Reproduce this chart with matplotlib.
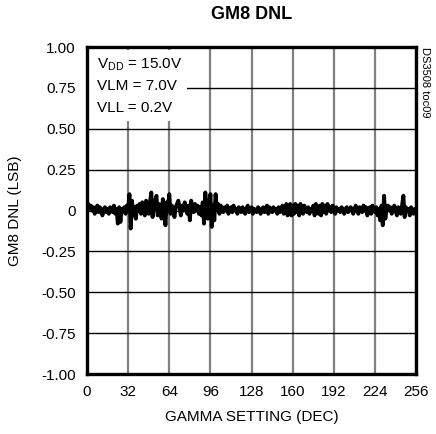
import numpy as np
import matplotlib
matplotlib.use("Agg")
import matplotlib.pyplot as plt
from matplotlib.patches import Rectangle

plt.rcParams['font.family'] = ['Liberation Sans', 'DejaVu Sans']
plt.rcParams['mathtext.fontset'] = 'custom'
plt.rcParams['mathtext.rm'] = 'Liberation Sans'

# gamma setting 0..256, DNL in LSB
dnl = [
    0.02, 0.04, 0.01, 0.03, 0.00, 0.02, -0.02, 0.01, 0.03, -0.01, 0.02, 0.00, -0.03, 0.01, 0.02, -0.01,
    0.01, -0.02, 0.02, 0.00, -0.01, 0.03, -0.02, 0.01, -0.08, 0.02, -0.07, 0.01, 0.00, 0.02, -0.02, 0.03,
    0.01, 0.10, -0.11, 0.06, -0.03, 0.02, -0.05, 0.03, 0.00, 0.04, -0.02, 0.05, 0.01, -0.03, 0.06, 0.02,
    -0.02, 0.05, 0.11, -0.04, 0.03, 0.06, 0.09, -0.03, 0.04, 0.02, -0.05, 0.07, 0.01, -0.09, 0.05, 0.03,
    0.10, -0.02, 0.03, 0.01, -0.04, 0.02, 0.04, 0.06, 0.02, -0.03, 0.03, 0.00, 0.05, 0.01, -0.02, 0.03,
    -0.06, 0.06, 0.02, -0.01, 0.04, 0.00, 0.03, -0.02, 0.02, -0.03, 0.05, -0.08, 0.11, 0.02, -0.05, 0.04,
    0.10, -0.10, 0.03, -0.06, 0.10, 0.01, 0.04, -0.02, 0.03, 0.01, -0.01, 0.02, 0.00, 0.03, -0.02, 0.01,
    0.02, -0.01, 0.03, 0.00, 0.01, -0.02, 0.02, 0.01, -0.01, 0.02, 0.00, -0.02, 0.01, 0.03, -0.01, 0.00,
    0.02, -0.02, 0.01, 0.00, -0.01, 0.02, 0.01, -0.02, 0.00, 0.02, -0.01, 0.01, 0.03, -0.02, 0.02, 0.00,
    -0.01, 0.02, 0.00, 0.01, -0.02, 0.02, -0.01, 0.01, 0.03, -0.02, 0.01, 0.04, -0.03, 0.02, 0.04, -0.03,
    0.03, -0.02, 0.04, -0.01, 0.03, -0.03, 0.04, 0.00, -0.02, 0.03, 0.01, -0.01, 0.02, -0.02, 0.01, 0.00,
    0.03, -0.03, 0.04, 0.00, -0.02, 0.03, -0.03, 0.04, -0.01, 0.03, -0.02, 0.04, 0.00, 0.02, -0.01, 0.03,
    0.01, -0.02, 0.02, 0.00, 0.01, -0.01, 0.02, 0.00, -0.02, 0.01, 0.02, -0.01, 0.00, 0.02, 0.01, -0.02,
    0.01, 0.03, 0.00, -0.02, 0.02, 0.01, -0.01, 0.03, 0.00, 0.02, -0.03, 0.01, 0.02, -0.02, 0.03, 0.00,
    -0.01, 0.02, -0.03, 0.01, -0.06, 0.03, -0.09, 0.09, -0.05, 0.02, 0.03, 0.00, 0.02, -0.02, 0.01, 0.03,
    0.00, -0.03, 0.02, 0.01, -0.02, 0.03, 0.09, -0.04, 0.02, 0.00, 0.01, -0.03, 0.02, 0.00, -0.02, 0.01, -0.01,
]
gamma = np.arange(len(dnl))

x_ticks = [0, 32, 64, 96, 128, 160, 192, 224, 256]
y_ticks = [-1.0, -0.75, -0.5, -0.25, 0, 0.25, 0.5, 0.75, 1.0]
y_labels = ['-1.00', '-0.75', '-0.50', '-0.25', '0', '0.25', '0.50', '0.75', '1.00']
cond_lines = ['V$_{\\mathregular{DD}}$ = 15.0V', 'VLM = 7.0V', 'VLL = 0.2V']

fig = plt.figure(figsize=(4.36, 4.34), dpi=100)
ax = fig.add_axes([0.1995, 0.1382, 0.7551, 0.7535])

ax.plot(gamma, dnl, color='black', lw=2.8, zorder=3)

ax.set_xlim(0, 256)
ax.set_ylim(-1, 1)
ax.set_xticks(x_ticks)
ax.set_yticks(y_ticks)
ax.set_yticklabels(y_labels)
ax.tick_params(length=0, labelsize=11, pad=8)
ax.set_axisbelow(True)
ax.xaxis.grid(True, color='#808080', lw=1.6)
ax.yaxis.grid(True, color='black', lw=1.0)
for s in ax.spines.values():
    s.set_linewidth(2.4)

# white patch behind the conditions text
ax.add_patch(Rectangle((0.8, 0.55), 77, 0.43, fc='white', ec='none', zorder=1))
for i, t in enumerate(cond_lines):
    ax.text(7.5, 0.89 - i * 0.13, t, fontsize=11, va='center', ha='left', zorder=4)

ax.set_title('GM8 DNL', fontsize=13, fontweight='bold', pad=20)
ax.set_xlabel('GAMMA SETTING (DEC)', fontsize=11, labelpad=8)
ax.set_ylabel('GM8 DNL (LSB)', fontsize=11, labelpad=14)

fig.text(0.975, 0.892, 'DS3508 toc09', rotation=-90, fontsize=8, ha='center', va='top')

fig.savefig('out.png', dpi=100)
